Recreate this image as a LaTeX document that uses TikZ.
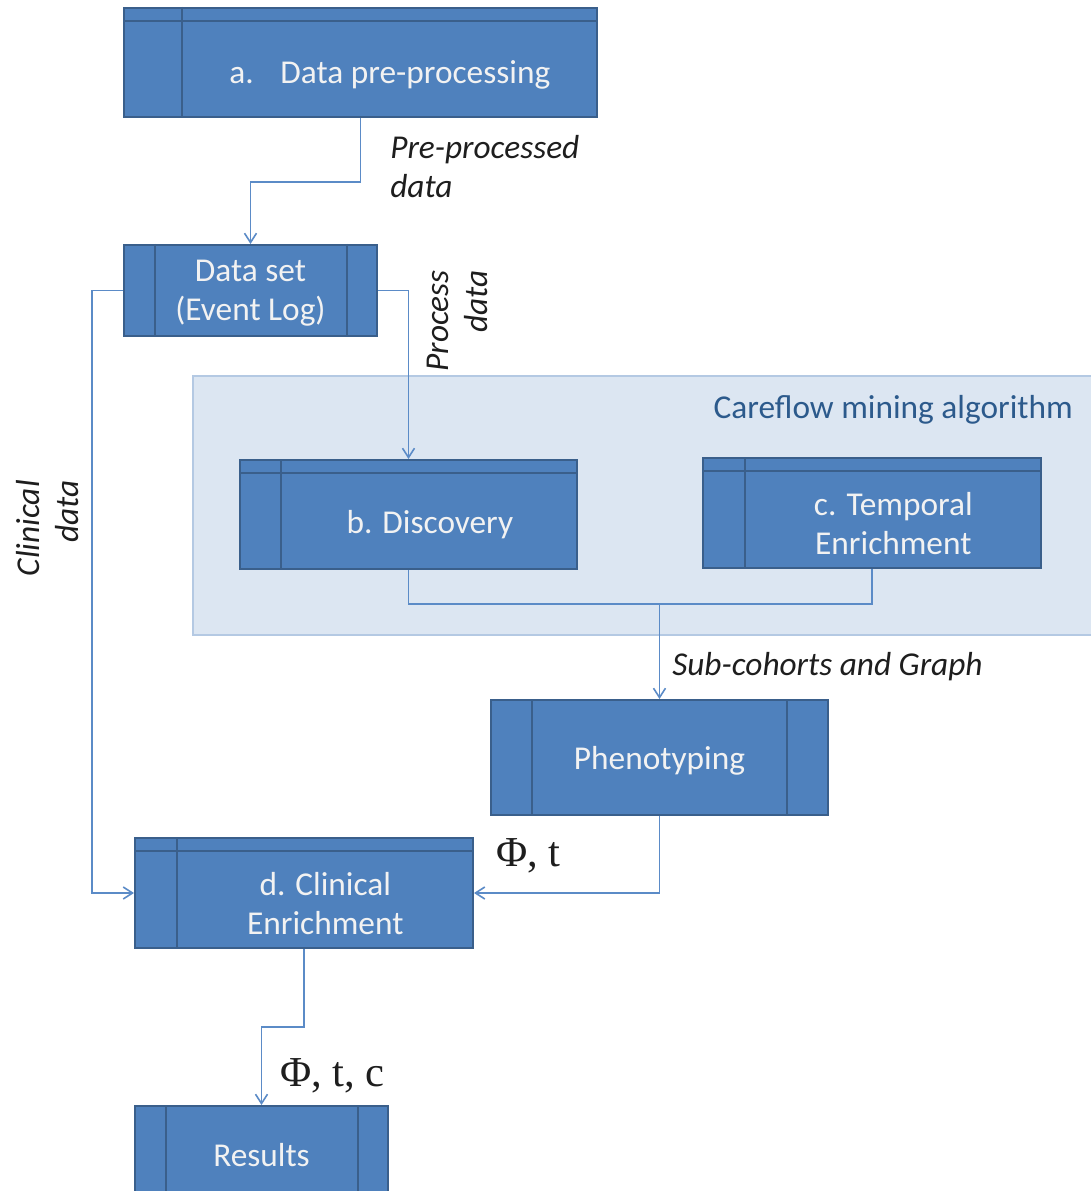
\documentclass[tikz,border=0pt]{standalone}
\usepackage{fontspec}
\setmainfont{Carlito}
\newfontfamily\phifont{Liberation Serif}
\usetikzlibrary{arrows.meta}
\definecolor{boxfill}{HTML}{4F81BD}
\definecolor{boxline}{HTML}{3A5F8B}
\definecolor{connc}{HTML}{5B8BC7}
\definecolor{regfill}{HTML}{DCE6F2}
\definecolor{regline}{HTML}{B4C9E3}
\definecolor{titlec}{HTML}{2C5A8C}
\definecolor{boxtext}{HTML}{F2F2F2}
\definecolor{labtext}{HTML}{1E1E1E}
\begin{document}
\begin{tikzpicture}[x=0.75pt,y=-0.75pt,
  procbox/.style={draw=boxline, fill=boxfill, line width=1.5pt, inner sep=0pt},
  boxlabel/.style={text=boxtext, align=center, font=\fontsize{25}{29.25}\selectfont, inner sep=0pt},
  innerline/.style={draw=boxline, line width=1.5pt},
  conn/.style={draw=connc, line width=1.3pt},
  arr/.style={-{Straight Barb[length=7pt,width=9pt,line width=1.2pt]}},
  lab/.style={text=labtext, inner sep=0pt, font=\fontsize{25}{29.25}\selectfont\itshape},
  philab/.style={text=labtext, inner sep=0pt, font=\phifont\fontsize{32}{36}\selectfont},
  region/.style={draw=regline, fill=regfill, line width=1.2pt, inner sep=0pt}
]
\useasboundingbox (0,0) rectangle (1091,1191);
\clip (0,0) rectangle (1091,1191);
\fill[white] (0,0) rectangle (1091,1191);

% region
\node[region, minimum width=680pt, minimum height=194.25pt] (cf) at (646.5,505.5) {};
\node[anchor=east, text=titlec, inner sep=0pt, font=\fontsize{25}{29.25}\selectfont] (cftitle) at (1073,410) {Careflow mining algorithm};

% boxes
\node[procbox, minimum width=354.75pt, minimum height=81.75pt,
  label={[boxlabel, xshift=22pt, yshift=-9pt]center:a.\hspace{0.8em}Data pre-processing}] (a) at (360.5,62.5) {};
\node[procbox, minimum width=189.75pt, minimum height=68.25pt,
  label={[boxlabel, yshift=-2.25pt]center:Data set\\(Event Log)}] (ds) at (250.5,290.5) {};
\node[procbox, minimum width=252.75pt, minimum height=81.75pt,
  label={[boxlabel, xshift=16pt, yshift=-7.85pt]center:b. Discovery}] (disc) at (408.5,514.5) {};
\node[procbox, minimum width=253.5pt, minimum height=82.5pt,
  label={[boxlabel, xshift=16pt, yshift=-8.25pt]center:c. Temporal\\Enrichment}] (temp) at (872,513) {};
\node[procbox, minimum width=252.75pt, minimum height=86.25pt,
  label={[boxlabel, yshift=-2.25pt]center:Phenotyping}] (pheno) at (659.5,757.5) {};
\node[procbox, minimum width=253.5pt, minimum height=82.5pt,
  label={[boxlabel, xshift=16pt, yshift=-8.25pt]center:d. Clinical\\Enrichment}] (clin) at (304,893) {};
\node[procbox, minimum width=189.75pt, minimum height=70.5pt,
  label={[boxlabel, yshift=-1.5pt]center:Results}] (res) at (261.5,1153) {};

% inner lines
\draw[innerline] ([yshift=-10.5pt]a.north west) -- ([yshift=-10.5pt]a.north east);
\draw[innerline] ([xshift=44.25pt]a.north west) -- ([xshift=44.25pt]a.south west);
\draw[innerline] ([yshift=-10.5pt]disc.north west) -- ([yshift=-10.5pt]disc.north east);
\draw[innerline] ([xshift=31.5pt]disc.north west) -- ([xshift=31.5pt]disc.south west);
\draw[innerline] ([yshift=-10.5pt]temp.north west) -- ([yshift=-10.5pt]temp.north east);
\draw[innerline] ([xshift=32.25pt]temp.north west) -- ([xshift=32.25pt]temp.south west);
\draw[innerline] ([yshift=-10.5pt]clin.north west) -- ([yshift=-10.5pt]clin.north east);
\draw[innerline] ([xshift=32.25pt]clin.north west) -- ([xshift=32.25pt]clin.south west);
\draw[innerline] ([xshift=24pt]ds.north west) -- ([xshift=24pt]ds.south west);
\draw[innerline] ([xshift=-23.25pt]ds.north east) -- ([xshift=-23.25pt]ds.south east);
\draw[innerline] ([xshift=31.5pt]pheno.north west) -- ([xshift=31.5pt]pheno.south west);
\draw[innerline] ([xshift=-31.5pt]pheno.north east) -- ([xshift=-31.5pt]pheno.south east);
\draw[innerline] ([xshift=24pt]res.north west) -- ([xshift=24pt]res.south west);
\draw[innerline] ([xshift=-23.25pt]res.north east) -- ([xshift=-23.25pt]res.south east);

% connectors
\coordinate (k1) at (360.5,182);
\coordinate (k2) at (92,290.5);
\coordinate (k3) at (659.5,604);
\coordinate (k4) at (304,1027);
\draw[conn,arr] (a.south) -- (k1) -| (ds.north);
\draw[conn,arr] (ds.east) -| (disc.north);
\draw[conn,arr] (ds.west) -- (k2) |- (clin.west);
\draw[conn] (disc.south) |- (k3) -| (temp.south);
\draw[conn,arr] (k3) -- (pheno.north);
\draw[conn,arr] (pheno.south) |- (clin.east);
\draw[conn,arr] (clin.south) -- (k4) -| (res.north);

% labels
\node[lab, anchor=west, align=left] (lpre) at (390,167) {Pre-processed\\data};
\node[lab, anchor=east, align=right, rotate=90] (lproc) at (457,270) {Process\\data};
\node[lab, anchor=east, align=right, rotate=90] (lclin) at (48,480) {Clinical\\data};
\node[lab, anchor=west] (lsub) at (672,667) {Sub-cohorts and Graph};
\node[philab, anchor=west] (lphi1) at (496,856) {Φ, t};
\node[philab, anchor=west] (lphi2) at (280,1076) {Φ, t, c};
\end{tikzpicture}
\end{document}
